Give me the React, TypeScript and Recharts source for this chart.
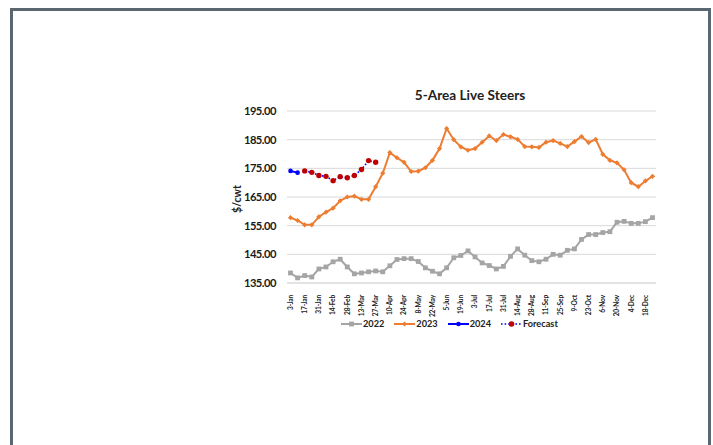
import React from 'react';
import { LineChart, Line, XAxis, YAxis, CartesianGrid } from 'recharts';

const weeks = ['3-Jan','10-Jan','17-Jan','24-Jan','31-Jan','7-Feb','14-Feb','21-Feb','28-Feb','6-Mar','13-Mar','20-Mar','27-Mar','3-Apr','10-Apr','17-Apr','24-Apr','1-May','8-May','15-May','22-May','29-May','5-Jun','12-Jun','19-Jun','26-Jun','3-Jul','10-Jul','17-Jul','24-Jul','31-Jul','7-Aug','14-Aug','21-Aug','28-Aug','4-Sep','11-Sep','18-Sep','25-Sep','2-Oct','9-Oct','16-Oct','23-Oct','30-Oct','6-Nov','13-Nov','20-Nov','27-Nov','4-Dec','11-Dec','18-Dec','25-Dec'];

const s2022 = [138.5,136.8,137.6,137.1,139.9,140.6,142.4,143.3,140.6,138.2,138.5,138.9,139.2,138.9,141.0,143.2,143.5,143.5,142.5,140.3,139.1,138.2,140.3,143.8,144.6,146.2,144.1,142.0,141.1,139.9,140.8,144.3,146.9,144.7,142.8,142.4,143.3,145.0,144.7,146.4,146.9,150.2,151.9,151.9,152.6,152.9,156.2,156.5,155.8,155.8,156.4,157.8];

const s2023 = [157.8,156.8,155.3,155.3,158.1,159.7,161.1,163.7,165.0,165.3,164.2,164.2,168.6,173.3,180.5,178.7,177.1,173.9,174.0,175.2,177.8,181.9,188.9,185.0,182.5,181.3,181.9,184.1,186.3,184.7,186.8,186.0,185.1,182.6,182.5,182.3,184.1,184.7,183.7,182.6,184.3,186.1,184.0,185.1,179.9,177.8,176.9,174.5,170.0,168.6,170.6,172.2];

const s2024 = [174.1, 173.5];

const forecast = [null, null, 174.1, 173.6, 172.5, 172.2, 170.7, 172.1, 171.7, 172.5, 174.6, 177.7, 177.1];

const yTicks = [135, 145, 155, 165, 175, 185, 195];

const data = weeks.map((w, i) => ({
  week: w,
  y2022: s2022[i],
  y2023: s2023[i],
  y2024: i < s2024.length ? s2024[i] : null,
  forecast: i < forecast.length ? forecast[i] : null,
}));

const FONT = 'Lato, "Open Sans", sans-serif';

const XTick = (props: any) => {
  const { x, y, payload } = props;
  return (
    <text
      x={0}
      y={0}
      transform={`translate(${x + 2.3},${y + 4}) rotate(-90)`}
      textAnchor="end"
      fontSize={6.6}
      fontWeight={700}
      letterSpacing={-0.15}
      fill="#222"
      fontFamily={FONT}
    >
      {payload.value}
    </text>
  );
};

const SquareDot = (props: any) => {
  const { cx, cy, index } = props;
  if (cx == null || cy == null) return <g key={index} />;
  return <rect key={index} x={cx - 2.4} y={cy - 2.4} width={4.8} height={4.8} fill="#a5a5a5" />;
};

const DiamondDot = (props: any) => {
  const { cx, cy, index } = props;
  if (cx == null || cy == null) return <g key={index} />;
  return (
    <path
      key={index}
      d={`M${cx},${cy - 2.6} L${cx + 2.6},${cy} L${cx},${cy + 2.6} L${cx - 2.6},${cy} Z`}
      fill="#ed7d31"
    />
  );
};

const legendItems = [
  { label: '2022', color: '#a5a5a5', kind: 'square' },
  { label: '2023', color: '#ed7d31', kind: 'diamond' },
  { label: '2024', color: '#0000ff', kind: 'circle' },
  { label: 'Forecast', color: '#0000ff', kind: 'forecast' },
];

const LegendBox = () => (
  <div style={{ display: 'flex', alignItems: 'center', fontFamily: FONT, fontSize: 9.2, fontWeight: 700, color: '#222', lineHeight: '12px' }}>
    {legendItems.map((it) => (
      <div key={it.label} style={{ display: 'flex', alignItems: 'center', marginRight: 10 }}>
        <svg width={21} height={8} style={{ marginRight: 1 }}>
          {it.kind === 'forecast' ? (
            <line x1={0} y1={4} x2={21} y2={4} stroke="#0000ff" strokeWidth={1.6} strokeDasharray="1.6 2" />
          ) : (
            <line x1={0} y1={4} x2={21} y2={4} stroke={it.color} strokeWidth={2} />
          )}
          {it.kind === 'square' && <rect x={8.1} y={1.6} width={4.8} height={4.8} fill={it.color} />}
          {it.kind === 'diamond' && <path d="M10.5,1.4 L13.1,4 L10.5,6.6 L7.9,4 Z" fill={it.color} />}
          {it.kind === 'circle' && <circle cx={10.5} cy={4} r={2.3} fill={it.color} />}
          {it.kind === 'forecast' && <circle cx={10.5} cy={4} r={2.8} fill="#c00000" />}
        </svg>
        <span>{it.label}</span>
      </div>
    ))}
  </div>
);

export default function App() {
  return (
    <div style={{ position: 'absolute', left: 0, top: 0, width: 713, height: 445, overflow: 'hidden', background: '#fff' }}>
      <div
        style={{
          position: 'absolute',
          left: 10,
          top: 8,
          width: 701,
          height: 460,
          border: '3px solid #5b6770',
          boxSizing: 'border-box',
        }}
      />
      <div
        style={{
          position: 'absolute',
          left: 0,
          top: 87,
          width: 940,
          textAlign: 'center',
          fontFamily: FONT,
          fontWeight: 700,
          fontSize: 13.6,
          color: '#222',
        }}
      >
        5-Area Live Steers
      </div>
      <div style={{ position: 'absolute', left: 0, top: 0 }}>
        <LineChart
          width={713}
          height={445}
          data={data}
          margin={{ top: 111, right: 57, bottom: 0, left: 227 }}
        >
          <CartesianGrid vertical={false} stroke="#d9d9d9" strokeWidth={1} />
          <XAxis
            dataKey="week"
            interval={1}
            tick={<XTick />}
            tickLine={false}
            axisLine={{ stroke: '#d9d9d9' }}
            height={162}
            padding={{ left: 3.5, right: 3.5 }}
          />
          <YAxis
            domain={[135, 195]}
            ticks={yTicks}
            width={60}
            tickLine={false}
            axisLine={false}
            tickFormatter={(v: number) => v.toFixed(2)}
            tick={{ fontSize: 11.2, fontWeight: 700, fill: '#1a1a1a', fontFamily: FONT, letterSpacing: -0.5 }}
            tickMargin={5}
            label={{
              value: '$/cwt',
              angle: -90,
              position: 'insideLeft',
              offset: 0,
              dx: 10,
              dy: 2,
              style: { fontSize: 10.5, fontWeight: 700, fill: '#222', fontFamily: FONT, textAnchor: 'middle' },
            }}
          />
          <Line
            type="linear"
            dataKey="y2022"
            stroke="#a5a5a5"
            strokeWidth={2}
            dot={SquareDot}
            activeDot={false}
            isAnimationActive={false}
          />
          <Line
            type="linear"
            dataKey="y2023"
            stroke="#ed7d31"
            strokeWidth={2}
            dot={DiamondDot}
            activeDot={false}
            isAnimationActive={false}
          />
          <Line
            type="linear"
            dataKey="forecast"
            stroke="#0000ff"
            strokeWidth={1.6}
            strokeDasharray="1.6 2"
            dot={{ r: 2.7, fill: '#c00000', stroke: 'none' }}
            activeDot={false}
            isAnimationActive={false}
          />
          <Line
            type="linear"
            dataKey="y2024"
            stroke="#0000ff"
            strokeWidth={2}
            dot={{ r: 2.3, fill: '#0000ff', stroke: 'none' }}
            activeDot={false}
            isAnimationActive={false}
          />
        </LineChart>
      </div>
      <div style={{ position: 'absolute', left: 341, top: 318 }}>
        <LegendBox />
      </div>
    </div>
  );
}
